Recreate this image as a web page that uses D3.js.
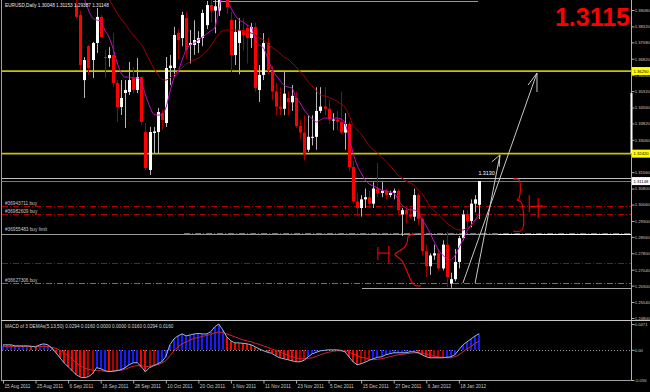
<!DOCTYPE html>
<html><head><meta charset="utf-8">
<script src="https://cdn.jsdelivr.net/npm/d3@7"></script>
<style>html,body{margin:0;padding:0;background:#000;overflow:hidden}</style>
</head><body>
<svg id="c" width="650" height="392"></svg>
<script>
// ---------- DATA ----------
const dates = [
"2011-08-15","2011-08-16","2011-08-17","2011-08-18","2011-08-19","2011-08-22","2011-08-23","2011-08-24","2011-08-25","2011-08-26","2011-08-29","2011-08-30","2011-08-31",
"2011-09-01","2011-09-02","2011-09-05","2011-09-06","2011-09-07","2011-09-08","2011-09-09","2011-09-12","2011-09-13","2011-09-14","2011-09-15","2011-09-16","2011-09-19","2011-09-20","2011-09-21","2011-09-22","2011-09-23","2011-09-26","2011-09-27","2011-09-28","2011-09-29","2011-09-30",
"2011-10-03","2011-10-04","2011-10-05","2011-10-06","2011-10-07","2011-10-10","2011-10-11","2011-10-12","2011-10-13","2011-10-14","2011-10-17","2011-10-18","2011-10-19","2011-10-20","2011-10-21","2011-10-24","2011-10-25","2011-10-26","2011-10-27","2011-10-28","2011-10-31",
"2011-11-01","2011-11-02","2011-11-03","2011-11-04","2011-11-07","2011-11-08","2011-11-09","2011-11-10","2011-11-11","2011-11-14","2011-11-15","2011-11-16","2011-11-17","2011-11-18","2011-11-21","2011-11-22","2011-11-23","2011-11-24","2011-11-25","2011-11-28","2011-11-29","2011-11-30",
"2011-12-01","2011-12-02","2011-12-05","2011-12-06","2011-12-07","2011-12-08","2011-12-09","2011-12-12","2011-12-13","2011-12-14","2011-12-15","2011-12-16","2011-12-19","2011-12-20","2011-12-21","2011-12-22","2011-12-23","2011-12-26","2011-12-27","2011-12-28","2011-12-29","2011-12-30",
"2012-01-02","2012-01-03","2012-01-04","2012-01-05","2012-01-06","2012-01-09","2012-01-10","2012-01-11","2012-01-12","2012-01-13","2012-01-16","2012-01-17","2012-01-18","2012-01-19","2012-01-20","2012-01-23","2012-01-24","2012-01-25"];

const open = [1.4250,1.4430,1.4400,1.4440,1.4330,1.4380,1.4390,1.4450,1.4410,1.4390,1.4490,1.4500,1.4440,
1.4380,1.4240,1.4200,1.4100,1.4020,1.3935,1.3885,1.3583,1.3740,1.3676,1.3755,1.3876,1.3690,1.3685,1.3699,1.3570,1.3458,1.3523,1.3528,1.3593,1.3537,1.3597,
1.3342,1.3166,1.3338,1.3342,1.3430,1.3384,1.3639,1.3639,1.3801,1.3778,1.3871,1.3746,1.3746,1.3755,1.3778,1.3838,1.3931,1.3905,1.3905,1.4170,1.4140,
1.3862,1.3699,1.3755,1.3815,1.3825,1.3778,1.3829,1.3537,1.3607,1.3755,1.3625,1.3530,1.3460,1.3450,1.3500,1.3480,1.3500,1.3370,1.3340,1.3260,1.3320,1.3320,
1.3440,1.3460,1.3450,1.3400,1.3400,1.3390,1.3340,1.3380,1.3180,1.3020,1.2990,1.3030,1.3040,1.3010,1.3080,1.3060,1.3070,1.3050,1.3060,1.3070,1.2960,1.2980,
1.2960,1.2950,1.3050,1.2940,1.2790,1.2720,1.2770,1.2780,1.2710,1.2820,1.2640,1.2660,1.2740,1.2850,1.2960,1.2930,1.3010,1.30048];
const high = [1.4440,1.4470,1.4480,1.4450,1.4440,1.4450,1.4490,1.4460,1.4470,1.4500,1.4520,1.4550,1.4550,
1.4400,1.4280,1.4210,1.4130,1.4110,1.4000,1.3905,1.3690,1.3746,1.3760,1.3917,1.3885,1.3723,1.3736,1.3801,1.3583,1.3583,1.3583,1.3667,1.3644,1.3685,1.3602,
1.3384,1.3366,1.3366,1.3454,1.3444,1.3690,1.3700,1.3830,1.3820,1.3900,1.3900,1.3815,1.3860,1.3810,1.3910,1.3950,1.3970,1.3960,1.4250,1.4200,1.4150,
1.3900,1.3862,1.3870,1.3870,1.3840,1.3848,1.3850,1.3653,1.3801,1.3780,1.3650,1.3570,1.3550,1.3620,1.3530,1.3560,1.3530,1.3400,1.3420,1.3420,1.3420,1.3550,
1.3550,1.3550,1.3490,1.3430,1.3440,1.3530,1.3430,1.3390,1.3210,1.3060,1.3050,1.3080,1.3070,1.3110,1.3199,1.3110,1.3080,1.3070,1.3080,1.3080,1.2990,1.2990,
1.2990,1.3080,1.3060,1.2950,1.2820,1.2780,1.2820,1.2800,1.2840,1.2880,1.2690,1.2800,1.2860,1.2980,1.2980,1.3030,1.3050,1.31153];
const low = [1.4230,1.4370,1.4390,1.4260,1.4300,1.4330,1.4350,1.4340,1.4340,1.4350,1.4450,1.4410,1.4360,
1.4220,1.4150,1.4050,1.3990,1.4000,1.3870,1.3630,1.3500,1.3605,1.3593,1.3709,1.3779,1.3593,1.3644,1.3551,1.3389,1.3421,1.3361,1.3514,1.3523,1.3523,1.3375,
1.3166,1.3143,1.3245,1.3245,1.3352,1.3366,1.3560,1.3600,1.3680,1.3740,1.3680,1.3660,1.3700,1.3709,1.3740,1.3820,1.3850,1.3800,1.3880,1.4080,1.3890,
1.3620,1.3653,1.3610,1.3720,1.3660,1.3732,1.3530,1.3482,1.3583,1.3610,1.3490,1.3420,1.3420,1.3420,1.3420,1.3440,1.3360,1.3310,1.3210,1.3250,1.3280,1.3260,
1.3430,1.3420,1.3380,1.3350,1.3350,1.3330,1.3260,1.3160,1.3010,1.2950,1.2950,1.2990,1.2990,1.2990,1.3040,1.3040,1.3030,1.3040,1.3030,1.2960,1.2860,1.2920,
1.2940,1.2930,1.2910,1.2770,1.2670,1.2680,1.2750,1.2700,1.2700,1.2624,1.2620,1.2650,1.2710,1.2840,1.2900,1.2900,1.2970,1.29387];
const close = [1.4430,1.4400,1.4440,1.4330,1.4380,1.4390,1.4450,1.4410,1.4390,1.4490,1.4500,1.4440,1.4380,
1.4240,1.4200,1.4100,1.4020,1.4090,1.3876,1.3653,1.3676,1.3639,1.3755,1.3876,1.3783,1.3685,1.3699,1.3570,1.3458,1.3500,1.3537,1.3583,1.3537,1.3597,1.3389,
1.3175,1.3342,1.3345,1.3435,1.3398,1.3639,1.3650,1.3792,1.3769,1.3885,1.3723,1.3755,1.3769,1.3778,1.3894,1.3931,1.3905,1.3925,1.4170,1.4140,1.3920,
1.3699,1.3806,1.3815,1.3792,1.3778,1.3829,1.3546,1.3607,1.3755,1.3625,1.3530,1.3460,1.3450,1.3520,1.3480,1.3510,1.3370,1.3340,1.3240,1.3320,1.3320,1.3440,
1.3460,1.3450,1.3400,1.3400,1.3390,1.3340,1.3380,1.3180,1.3020,1.2990,1.3030,1.3040,1.3010,1.3080,1.3060,1.3070,1.3050,1.3060,1.3070,1.2980,1.2980,1.2960,
1.2950,1.3050,1.2940,1.2790,1.2720,1.2770,1.2780,1.2710,1.2820,1.2670,1.2660,1.2740,1.2850,1.2960,1.2930,1.3010,1.3030,1.31148];

const maFast = [1.4400,1.4410,1.4420,1.4390,1.4385,1.4385,1.4410,1.4410,1.4400,1.4440,1.4460,1.4450,1.4420,1.4360,1.4310,1.4240,1.4170,1.4140,1.4060,1.4010,
1.3959,1.3908,1.3871,1.3862,1.3857,1.3815,1.3783,1.3732,1.3667,1.3616,1.3597,1.3597,1.3593,1.3593,1.3574,1.3514,1.3463,1.3426,1.3421,1.3421,
1.3454,1.3528,1.3593,1.3621,1.3676,1.3723,1.3746,1.3755,1.3769,1.3783,1.3797,1.3811,1.3825,1.3908,1.3991,1.3954,1.3917,1.3885,1.3862,1.3852,
1.3838,1.3829,1.3769,1.3746,1.3732,1.3685,1.3639,1.3607,1.3583,1.3560,1.3551,1.3546,1.3500,1.3477,1.3444,1.3421,1.3403,1.3389,1.3398,1.3407,
1.3407,1.3407,1.3407,1.3403,1.3384,1.3319,1.3245,1.3189,1.3152,1.3120,1.3101,1.3092,1.3083,1.3073,1.3069,1.3064,1.3060,1.3032,1.3004,1.2990,
1.2981,1.2981,1.2967,1.2935,1.2907,1.2870,1.2832,1.2795,1.2772,1.2758,1.2749,1.2768,1.2805,1.2842,1.2883,1.2911,1.2935,1.2962];
const maSlow = [1.4380,1.4385,1.4390,1.4390,1.4392,1.4395,1.4400,1.4405,1.4408,1.4412,1.4418,1.4422,1.4420,1.4410,1.4395,1.4375,1.4350,1.4325,1.4290,1.4240,
1.4190,1.4140,1.4100,1.4065,1.4030,1.3991,1.3959,1.3927,1.3894,1.3866,1.3843,1.3815,1.3792,1.3769,1.3750,1.3713,1.3676,1.3639,1.3611,1.3588,
1.3583,1.3593,1.3607,1.3625,1.3639,1.3658,1.3667,1.3676,1.3685,1.3699,1.3718,1.3741,1.3769,1.3797,1.3811,1.3815,1.3815,1.3815,1.3815,1.3811,
1.3806,1.3801,1.3792,1.3778,1.3769,1.3750,1.3736,1.3723,1.3709,1.3690,1.3681,1.3662,1.3644,1.3621,1.3602,1.3574,1.3556,1.3533,1.3514,1.3509,
1.3505,1.3495,1.3486,1.3472,1.3458,1.3421,1.3375,1.3352,1.3333,1.3305,1.3277,1.3259,1.3245,1.3227,1.3208,1.3189,1.3166,1.3143,1.3129,1.3115,
1.3106,1.3096,1.3073,1.3055,1.3027,1.2995,1.2976,1.2958,1.2939,1.2921,1.2907,1.2893,1.2888,1.2888,1.2897,1.2907,1.2930,1.2948];

const macd = [0.0091,0.0091,0.0091,0.0072,0.0072,0.0072,0.0072,0.0063,0.0054,0.0091,0.0109,0.0091,0.0036,
-0.0054,-0.0145,-0.0236,-0.0308,-0.0380,-0.0453,-0.0498,-0.0507,-0.0489,-0.0435,-0.0326,-0.0344,-0.0380,-0.0399,-0.0389,-0.0380,-0.0362,-0.0326,-0.0272,-0.0236,-0.0236,-0.0308,
-0.0399,-0.0326,-0.0290,-0.0254,-0.0217,-0.0127,0.0091,0.0199,0.0254,0.0290,0.0254,0.0272,0.0290,0.0299,0.0290,0.0290,0.0326,0.0417,0.0471,0.0362,0.0236,
0.0163,0.0127,0.0127,0.0118,0.0109,0.0091,0.0054,0.0018,-0.0018,-0.0045,-0.0063,-0.0109,-0.0145,-0.0163,-0.0181,-0.0199,-0.0217,-0.0217,-0.0190,-0.0127,-0.0072,-0.0045,
-0.0018,-0.0009,0.0000,0.0000,0.0000,-0.0009,-0.0036,-0.0127,-0.0217,-0.0272,-0.0254,-0.0226,-0.0190,-0.0163,-0.0136,-0.0127,-0.0091,-0.0072,-0.0054,-0.0054,-0.0054,-0.0054,
-0.0036,-0.0036,-0.0054,-0.0091,-0.0127,-0.0145,-0.0145,-0.0145,-0.0145,-0.0136,-0.0127,-0.0091,0.0000,0.0091,0.0145,0.0199,0.0254,0.0294];
const signal = [0.0063,0.0063,0.0063,0.0063,0.0063,0.0063,0.0063,0.0063,0.0063,0.0063,0.0063,0.0063,0.0045,
0.0027,-0.0009,-0.0054,-0.0109,-0.0172,-0.0236,-0.0290,-0.0335,-0.0353,-0.0371,-0.0380,-0.0380,-0.0389,-0.0389,-0.0389,-0.0380,-0.0371,-0.0353,-0.0326,-0.0299,-0.0290,-0.0290,
-0.0308,-0.0299,-0.0281,-0.0272,-0.0245,-0.0199,-0.0109,-0.0018,0.0054,0.0109,0.0145,0.0181,0.0208,0.0226,0.0245,0.0263,0.0281,0.0308,0.0326,0.0317,0.0290,
0.0263,0.0236,0.0208,0.0181,0.0163,0.0145,0.0118,0.0100,0.0072,0.0045,0.0018,-0.0009,-0.0036,-0.0072,-0.0100,-0.0127,-0.0145,-0.0163,-0.0163,-0.0154,-0.0145,-0.0118,
-0.0091,-0.0063,-0.0045,-0.0027,-0.0018,-0.0018,-0.0027,-0.0045,-0.0072,-0.0109,-0.0136,-0.0154,-0.0172,-0.0181,-0.0172,-0.0163,-0.0145,-0.0127,-0.0109,-0.0091,-0.0082,-0.0072,
-0.0063,-0.0054,-0.0054,-0.0063,-0.0082,-0.0100,-0.0118,-0.0127,-0.0136,-0.0145,-0.0145,-0.0127,-0.0091,-0.0036,0.0018,0.0063,0.0118,0.0160];

const priceTicks = [1.3908,1.3832,1.3758,1.3682,1.3606,1.3532,1.3456,1.3382,1.3306,1.3156,1.3080,1.3006,1.2930,1.2856,1.2780,1.2704,1.2630,1.2554,1.2480];
const dateTicks = ["2011-08-15","2011-08-25","2011-09-06","2011-09-16","2011-09-28","2011-10-10","2011-10-20","2011-11-01","2011-11-11","2011-11-23","2011-12-05","2011-12-15","2011-12-27","2012-01-06","2012-01-18"];
const macdTicks = [0.0471, 0, -0.055];
const macdTickLabels = ["0.0471","0.00","-0.055"];

const header = "EURUSD,Daily  1.30048 1.31153 1.29387 1.31148";
const macdTitle = "MACD of 3 DEMAs(5,13,50) 0.0294 0.0160 0.0000 0.0000 0.0160 0.0294 0.0160";
const bigPrice = "1.3115";
const bidPrice = 1.31148;
const yellowLevels = [1.3625, 1.3242];
const markLevel = 1.3130;
const orderLevels = [1.2999, 1.2962, 1.2876, 1.2642];
const orderLabels = ["#36943711 buy","#36982609 buy","#36955483 buy limit","#36627306 buy"];
const orderKinds = ["red","red","green","green"];
const stopLevel = 1.2735;
const limitBase = 1.2871;
const lowLevel = 1.2619;
const topLevel = 1.3950;
const arrowLong = [[113.0,1.2642],[131.2,1.3616]];
const arrowLongHead = [[129.0,1.3560],[131.2,1.3616],[131.2,1.3528]];
const arrowShort = [[116.0,1.2642],[122.1,1.3236]];
const arrowShortHead = [[120.1,1.3204],[122.1,1.3236],[121.9,1.3181]];
const braceRight = [[125.3,1.3124],[126.8,1.3120],[126.8,1.3036],[126.3,1.3027],[127.3,1.3018],[127.5,1.2888],[125.3,1.2883]];
const hRight = [[[129.3,1.3050],[129.3,1.2972]],[[129.3,1.2995],[132.7,1.3000]],[[131.5,1.3036],[131.5,1.2944]]];
const hLeft = [[[92.1,1.2809],[92.1,1.2749]],[[92.1,1.2781],[95.1,1.2781]],[[94.8,1.2814],[94.8,1.2735]]];
const curveLeft = [[101.3,1.2872],[100.66,1.2868],[99.58,1.2860],[99.34,1.2834],[98.77,1.2811],[97.54,1.2792],[96.31,1.2777],[97.37,1.2757],[98.21,1.2741],[98.94,1.2711],[99.83,1.2672],[100.66,1.2641],[101.47,1.2629],[102.63,1.2630]];

// ---------- DRAW ----------
const svg = d3.select('#c');
const FONT = "'Liberation Sans', Arial, sans-serif";
svg.append('rect').attr('width',650).attr('height',392).attr('fill','#000');

const x = d3.scaleLinear().domain([0, dates.length-1]).range([3, 3 + 4.07*(dates.length-1)]);
const y = d3.scaleLinear().domain([1.2480, 1.3908]).range([318, 10]);
const ym = d3.scaleLinear().domain([-0.055, 0.0471]).range([380, 324]);
const X0 = 2, X1 = 631;

const defs = svg.append('defs');
defs.append('clipPath').attr('id','cp').append('rect').attr('x',X0).attr('y',0).attr('width',X1-X0).attr('height',320);
defs.append('clipPath').attr('id','cm').append('rect').attr('x',X0).attr('y',322).attr('width',X1-X0).attr('height',58);

const gp = svg.append('g').attr('clip-path','url(#cp)');

function hline(g, yy, x1, x2, color, w, dash){
  const l = g.append('line').attr('x1',x1).attr('x2',x2).attr('y1',yy).attr('y2',yy)
    .attr('stroke',color).attr('stroke-width',w||1);
  if(dash) l.attr('stroke-dasharray',dash);
  return l;
}
const R = v => Math.round(v)+0.5;

hline(gp, R(y(topLevel)), x(51.6), x(116.7), '#9a9a9a', 1);
yellowLevels.forEach(p => hline(gp, y(p), X0, X1, '#c8c400', 1.7));
hline(gp, R(y(markLevel)), X0, X1, '#bdbdbd', 1);
hline(gp, R(y(bidPrice)), X0, X1, '#6c7c8c', 1);
orderLevels.forEach((p,i) => {
  const col = orderKinds[i]==='red' ? '#b00000' : '#2f9a2f';
  const xs = i===2 ? x(44.5) : X0;
  hline(gp, R(y(p)), xs, X1, col, 1, '6,2,1,2');
});
hline(gp, R(y(stopLevel)), X0, X1, '#b00000', 1, '6,2,1,2');
hline(gp, R(y(limitBase)), X0, x(121.6), '#9a9a9a', 1);
hline(gp, R(y(limitBase)), x(121.6), X1, '#ffffff', 1);
hline(gp, R(y(lowLevel)), x(88.2), X1, '#a8a8a8', 1);

// candles
const idx = d3.range(dates.length);
gp.selectAll('line.wick').data(idx).join('line').attr('class','wick')
  .attr('x1', i => R(x(i))).attr('x2', i => R(x(i)))
  .attr('y1', i => y(high[i])).attr('y2', i => y(low[i]))
  .attr('stroke', i => close[i] >= open[i] ? '#b8b8b8' : '#a00000').attr('stroke-width',1);
gp.selectAll('rect.body').data(idx).join('rect').attr('class','body')
  .attr('x', i => Math.round(x(i)) - 1)
  .attr('width', 3)
  .attr('y', i => Math.min(y(open[i]), y(close[i])))
  .attr('height', i => Math.max(1, Math.abs(y(open[i]) - y(close[i]))))
  .attr('fill', i => close[i] >= open[i] ? '#ffffff' : '#ff0000');

// moving averages
const lineP = d3.line().x((d,i) => x(i)).y(d => y(d)).curve(d3.curveMonotoneX);
gp.append('path').attr('d', lineP(maSlow)).attr('fill','none').attr('stroke','#a00000').attr('stroke-width',1);
gp.append('path').attr('d', lineP(maFast)).attr('fill','none').attr('stroke','#c010c0').attr('stroke-width',1);

// annotations
const lineA = d3.line().x(d => x(d[0])).y(d => y(d[1]));
[arrowLong, arrowLongHead, arrowShort, arrowShortHead].forEach(a =>
  gp.append('path').attr('d', lineA(a)).attr('fill','none').attr('stroke','#c8c8c8').attr('stroke-width',1));
const lineC = d3.line().x(d => x(d[0])).y(d => y(d[1])).curve(d3.curveCatmullRom);
[braceRight, curveLeft].forEach(a =>
  gp.append('path').attr('d', lineC(a)).attr('fill','none').attr('stroke','#ff0000').attr('stroke-width',1.1));
[...hRight, ...hLeft].forEach(a =>
  gp.append('path').attr('d', lineA(a)).attr('fill','none').attr('stroke','#ff0000').attr('stroke-width',1.1));

const txt = (g, tx, ty, s, size, col, anchor, weight) => g.append('text').attr('x',tx).attr('y',ty).text(s)
  .attr('font-family',FONT).attr('font-size',size).attr('fill',col).attr('text-anchor',anchor||'start').attr('font-weight',weight||'normal');
orderLevels.forEach((p,i) => txt(svg, 5, y(p) - 1.2, orderLabels[i], 4.7, '#c8c8c8'));
txt(svg, x(116.8), y(markLevel) - 3, markLevel.toFixed(4), 5.4, '#ffffff');
txt(svg, 5, 7, header, 4.7, '#e8e8e8');
txt(svg, 630, 26, bigPrice, 25, '#ff0000', 'end', 'bold');

// ---------- MACD pane ----------
const gm = svg.append('g').attr('clip-path','url(#cm)');
gm.append('line').attr('x1',X0).attr('x2',X1).attr('y1',R(ym(0))).attr('y2',R(ym(0)))
  .attr('stroke','#9a9a9a').attr('stroke-dasharray','1,2');
const histColor = i => (macd[i] > signal[i]) ? '#1a1aff' : ((i > 0 && macd[i] < macd[i-1]) ? '#ff0000' : '#b00000');
gm.append('g').attr('shape-rendering','crispEdges')
  .selectAll('rect').data(idx).join('rect')
  .attr('x', i => Math.round(x(i)) - 1)
  .attr('width', 2)
  .attr('y', i => Math.min(ym(0), ym(macd[i])))
  .attr('height', i => Math.abs(ym(macd[i]) - ym(0)))
  .style('fill', i => histColor(i));
const lineM = d3.line().x((d,i) => x(i)).y(d => ym(d));
gm.append('path').attr('d', lineM(signal)).attr('fill','none').attr('stroke','#d02828').attr('stroke-width',1);
gm.append('path').attr('d', lineM(macd)).attr('fill','none').attr('stroke','#9ab8d8').attr('stroke-width',1);
txt(svg, 5, 328, macdTitle, 4.7, '#d8d8d8');

// frame lines
svg.append('line').attr('x1',1.5).attr('x2',1.5).attr('y1',0).attr('y2',381).attr('stroke','#a0a0a0');
svg.append('line').attr('x1',X1+0.5).attr('x2',X1+0.5).attr('y1',0).attr('y2',381).attr('stroke','#b0b0b0');
svg.append('line').attr('x1',X1+0.5).attr('x2',X1+0.5).attr('y1',93).attr('y2',153).attr('stroke','#ffffff').attr('stroke-width',2);
svg.append('line').attr('x1',1).attr('x2',650).attr('y1',320.5).attr('y2',320.5).attr('stroke','#c8c8c8');
svg.append('line').attr('x1',1).attr('x2',X1+1).attr('y1',380.5).attr('y2',380.5).attr('stroke','#a0a0a0');

// right price axis
const AXF = 4.2;
const ax = svg.append('g').attr('transform',`translate(${X1+0.5},0)`)
  .call(d3.axisRight(y).tickValues(priceTicks).tickSize(3).tickFormat(d3.format('.5f')));
ax.select('.domain').remove();
ax.selectAll('line').attr('stroke','#b0b0b0');
ax.selectAll('text').attr('fill','#c8c8c8').attr('font-size',AXF).attr('font-family',FONT).attr('x',3.2);

function axisTag(p, label, bg){
  const yy = y(p);
  svg.append('rect').attr('x',X1+1).attr('y',yy-4).attr('width',18).attr('height',8).attr('fill',bg);
  txt(svg, X1+2.5, yy+1.6, label, AXF, '#000');
}
yellowLevels.forEach(p => axisTag(p, p.toFixed(5), '#ffff00'));
axisTag(bidPrice, bidPrice.toFixed(5), '#ffffff');

const axm = svg.append('g').attr('transform',`translate(${X1+0.5},0)`)
  .call(d3.axisRight(ym).tickValues(macdTicks).tickSize(3).tickFormat((d,i) => macdTickLabels[i]));
axm.select('.domain').remove();
axm.selectAll('line').attr('stroke','#b0b0b0');
axm.selectAll('text').attr('fill','#c8c8c8').attr('font-size',AXF).attr('font-family',FONT).attr('x',3.2);

// date axis
const parse = d3.timeParse('%Y-%m-%d'), fmt = d3.timeFormat('%-d %b %Y');
const axd = svg.append('g').attr('transform','translate(0,380.5)')
  .call(d3.axisBottom(x).tickValues(dateTicks.map(d => dates.indexOf(d))).tickSize(3).tickFormat(i => fmt(parse(dates[i]))));
axd.select('.domain').remove();
axd.selectAll('line').attr('stroke','#b0b0b0');
axd.selectAll('text').attr('fill','#c8c8c8').attr('font-size',4.7).attr('font-family',FONT)
  .attr('text-anchor','start').attr('x',1).attr('y',4).attr('dy','0.71em');
</script>
</body></html>
